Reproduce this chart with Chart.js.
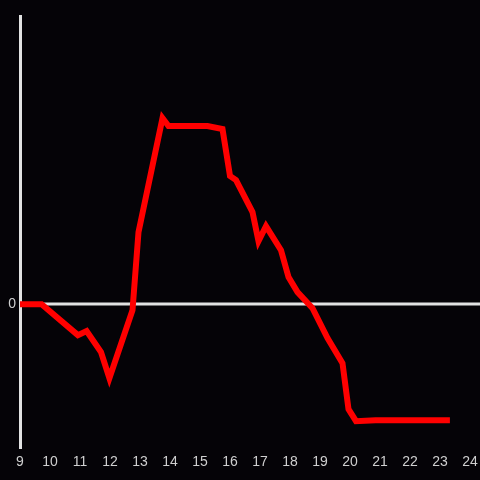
<!DOCTYPE html>
<html>
<head>
<meta charset="utf-8">
<script src="https://cdn.jsdelivr.net/npm/chart.js@4"></script>
<style>
  html, body { margin: 0; padding: 0; background: #050307; }
  canvas { display: block; }
</style>
</head>
<body>
<canvas id="chart" width="480" height="480"></canvas>
<script>
// hours of day and the values
const hours = [9.0, 9.72, 10.93, 11.22, 11.7, 11.98, 12.75, 12.95, 13.75, 13.95, 15.25, 15.75,
    16.0, 16.2, 16.75, 16.95, 17.2, 17.7, 17.95, 18.25, 18.75, 19.25, 19.75, 19.95, 20.2, 20.85, 23.33];
const values = [0, 0, -31, -27, -48, -74, -6, 72, 186, 178, 178, 175,
    128, 124, 92, 63, 78, 54, 27, 12, -4, -34, -59, -105, -117, -116, -116];
const yTicks = [0];

const points = hours.map((h, i) => ({ x: h, y: values[i] }));

// zero line runs across to the right edge of the canvas
const zeroLine = {
    id: 'zeroLine',
    beforeDatasetsDraw(chart) {
        const { ctx, chartArea, scales } = chart;
        const y = Math.round(scales.y.getPixelForValue(0));
        ctx.save();
        ctx.strokeStyle = '#e2e2e2';
        ctx.lineWidth = 3;
        ctx.beginPath();
        ctx.moveTo(chartArea.left, y);
        ctx.lineTo(chart.width, y);
        ctx.stroke();
        ctx.restore();
    }
};

new Chart(document.getElementById('chart'), {
    type: 'line',
    data: {
        datasets: [{
            data: points,
            borderColor: '#ff0000',
            borderWidth: 6,
            pointRadius: 0,
            tension: 0,
            fill: false
        }]
    },
    options: {
        responsive: false,
        animation: false,
        layout: { padding: { top: 16, right: 0, bottom: 3, left: 0 } },
        plugins: { legend: { display: false }, tooltip: { enabled: false } },
        scales: {
            x: {
                type: 'linear',
                min: 9,
                max: 24,
                afterFit(scale) { scale.paddingLeft = 0; scale.paddingRight = 10; },
                grid: { display: false, drawTicks: false },
                border: { display: false },
                ticks: {
                    stepSize: 1,
                    color: '#cfcfcf',
                    padding: 6,
                    maxRotation: 0,
                    font: { family: 'Liberation Sans', size: 14 }
                }
            },
            y: {
                min: -144,
                max: 288,
                afterFit(scale) { scale.width = 20; },
                afterBuildTicks(scale) { scale.ticks = yTicks.map(v => ({ value: v })); },
                grid: { display: false, drawTicks: false },
                border: { display: true, color: '#e2e2e2', width: 3 },
                ticks: {
                    color: '#cfcfcf',
                    padding: 4,
                    font: { family: 'Liberation Sans', size: 14 }
                }
            }
        }
    },
    plugins: [zeroLine]
});
</script>
</body>
</html>
